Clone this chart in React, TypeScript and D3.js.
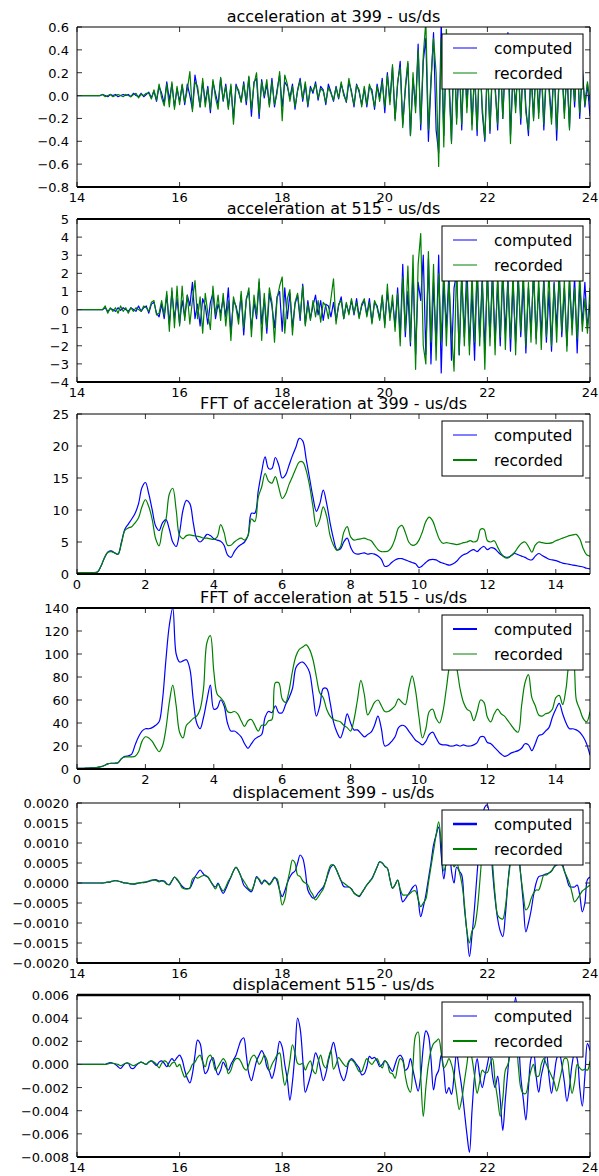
import * as d3 from 'd3';

// sampling of the stored series
const T0 = 14; // s, first sample of the time series
const DT = 0.05; // s between samples
const F0 = 0; // Hz, first FFT bin
const DF = 0.1; // Hz between FFT bins

// acceleration at 399
const accel399Computed = [
  0, 0, 0, 0, 0, 0, 0, 0, 0, 0, 0.01, 0, -0.01, 0.01, 0, 0.01, -0.01, 0, 0.01, 0,
  0.01, -0.01, 0.02, 0, -0.01, 0.02, -0.01, 0.01, 0.03, -0.02, 0.04, -0.05, 0.08, 0.02, -0.07, 0.12, -0.04, 0.1, -0.1, 0.06,
  -0.05, 0.09, -0.08, 0.1, 0, -0.12, 0.18, 0.05, -0.1, 0.12, -0.06, 0.08, -0.15, 0.12, 0.02, -0.08, 0.15, -0.05, 0.1, -0.1,
  0.08, -0.2, 0.1, 0.03, -0.05, 0.12, -0.08, 0.16, -0.18, 0.12, 0.15, -0.2, 0.14, -0.02, 0.1, -0.08, 0.15, -0.1, 0.05, 0.18,
  -0.1, 0.12, 0.08, -0.02, 0.1, -0.12, 0.05, 0.15, -0.05, 0.1, -0.1, 0.08, 0.02, 0.12, -0.04, 0.08, 0.05, -0.08, 0.1, 0.03,
  -0.05, 0.08, -0.03, 0.1, 0.02, -0.06, 0.12, 0.04, -0.1, 0.1, 0.03, -0.08, 0.06, -0.1, 0.08, 0.05, -0.12, 0.1, -0.02, 0.15,
  -0.15, 0.2, -0.05, 0.25, -0.2, 0.1, 0.3, -0.25, 0.05, 0.28, -0.35, 0.15, -0.1, 0.45, -0.3, 0.3, 0.5, -0.4, 0.1, 0.55,
  -0.3, -0.5, 0.65, -0.35, 0.4, 0.2, -0.4, 0.5, -0.2, 0.3, -0.3, 0.45, -0.1, 0.35, -0.25, 0.2, -0.35, 0.4, -0.15, -0.4,
  0.3, -0.33, 0.25, 0.1, -0.3, 0.4, -0.2, 0.3, 0.55, -0.35, 0.2, -0.1, 0.3, -0.25, 0.35, -0.1, -0.35, 0.25, -0.2, 0.3,
  -0.15, 0.25, -0.3, 0.2, 0.1, -0.2, 0.3, -0.39, 0.2, 0.25, -0.15, 0.2, -0.28, 0.3, -0.1, 0.35, -0.2, 0.25, -0.1, 0.1, -0.18,
];
const accel399Recorded = [
  0, 0, 0, 0, 0, 0, 0, 0, 0, 0, 0.01, -0.01, 0, 0.01, -0.01, 0, 0.01, 0, -0.01, 0.01,
  0, -0.01, 0.01, 0.02, -0.02, 0.01, 0, 0.02, 0.02, -0.03, 0.05, -0.04, 0.1, -0.02, -0.09, 0.1, -0.1, 0.12, -0.12, 0.08,
  -0.08, 0.1, -0.06, 0.05, 0.21, -0.14, 0.12, 0.08, -0.1, 0.15, -0.1, 0.06, -0.12, 0.14, -0.02, -0.12, 0.16, -0.04, 0.08, -0.12,
  0.1, -0.25, 0.08, 0.05, -0.06, 0.1, -0.05, 0.17, -0.12, 0.1, 0.2, -0.16, 0.12, 0, 0.14, -0.1, 0.12, -0.08, 0.02, 0.21,
  -0.22, 0.18, 0.1, -0.05, 0.08, -0.1, 0.04, 0.13, -0.03, 0.12, -0.08, 0.06, 0.04, 0.1, -0.02, 0.06, 0.04, -0.06, 0.07, 0.02,
  -0.04, 0.07, -0.02, 0.12, 0, -0.05, 0.15, 0.02, -0.08, 0.09, 0.05, -0.1, 0.08, -0.08, 0.1, 0.02, -0.1, 0.08, -0.05, 0.12,
  -0.1, 0.18, -0.08, 0.27, -0.22, 0.12, 0.25, -0.28, 0.08, 0.3, -0.35, 0.2, -0.15, 0.4, -0.25, 0.35, 0.65, -0.3, 0.15, 0.5,
  0.2, -0.62, 0.5, -0.45, 0.58, 0.1, -0.42, 0.45, -0.25, 0.35, -0.25, 0.4, -0.15, 0.3, -0.3, 0.25, -0.3, 0.35, -0.1, -0.38,
  0.25, -0.3, 0.3, 0.05, -0.25, 0.35, -0.2, 0.35, 0.4, -0.42, 0.25, -0.15, 0.3, -0.2, 0.3, -0.15, -0.3, 0.2, -0.22, 0.28,
  -0.2, 0.3, -0.25, 0.25, 0.05, -0.25, 0.28, -0.3, 0.15, 0.3, -0.2, 0.25, -0.3, 0.28, -0.05, 0.3, -0.15, 0.2, -0.08, 0.12, -0.05,
];

// acceleration at 515
const accel515Computed = [
  0, 0, 0, 0, 0, 0, 0, 0, 0, 0, 0, 0.1, -0.1, 0.05, 0, -0.1, 0.1, -0.05, 0.1, 0,
  -0.1, 0.1, 0, -0.1, 0.2, -0.1, 0.1, 0.2, -0.2, 0.3, 0.4, -0.2, -0.4, 0.3, -0.5, 0.8, -0.8, 1.0, -0.5, 0.6,
  -0.8, 0.5, -0.4, 0.8, 0.2, 1.5, -0.5, 0.3, -0.9, 0.6, 0.2, -0.8, 0.4, 0.9, -0.5, 0.3, -0.2, 0.6, -0.4, 1.2,
  -1.3, 0.5, 0.2, -0.5, 0.8, -1.4, 0.6, 1.0, -1.1, 0.4, -0.5, 1.5, -0.8, 0.6, -1.3, 0.9, 0.2, -1.0, 0.7, 1.0,
  -1.2, 1.2, -0.5, 0.9, -1.0, 0.3, 0.8, -0.6, 1.4, -0.8, 0.5, -0.5, 0.2, 0.8, -0.3, 0.5, -0.6, 0.3, 0.2, -0.4,
  0.4, -0.6, 0.2, 0.7, -0.5, 0.3, -0.2, 0.5, -0.3, 0.6, -0.4, 0.2, 0.5, -0.3, 0.6, -0.7, 0.4, 0.2, -0.5, 0.7,
  -0.8, 1.0, -0.4, 0.5, -0.9, 1.2, -1.5, 2.5, -1.5, 1.0, -2.0, 2.2, -2.5, 1.5, 0.5, 3.0, -2.5, 2.8, -3.0, 1.5,
  -2.0, 3.0, -3.5, 1.5, -1.0, 2.0, -2.8, 1.2, 2.0, -2.5, 1.8, -1.5, 2.5, -2.0, 1.0, -2.8, 2.2, -1.5, 1.8, -2.2,
  2.0, -1.5, 2.2, -1.8, 1.5, -2.0, 2.0, -1.3, 1.8, -2.3, 1.5, -1.8, 2.0, -1.5, 1.5, -2.4, 1.2, -1.2, 2.0, -1.6,
  1.2, -1.4, 1.8, -1.8, 1.0, -2.3, 1.5, -1.0, 2.0, -1.5, 1.2, -2.0, 1.5, -1.0, 1.8, -2.4, 1.4, -0.8, 1.5, -1.0, 0.3,
];
const accel515Recorded = [
  0, 0, 0, 0, 0, 0, 0, 0, 0, 0, 0, 0.2, -0.2, 0.1, -0.1, 0.1, -0.2, 0.2, -0.1, 0.1,
  -0.2, 0.1, -0.1, 0.1, 0, -0.1, 0.2, 0.1, -0.1, 0.4, 0.5, -0.3, -0.2, 0.5, -0.3, 1.0, -1.2, 1.2, -1.0, 1.3,
  -0.9, 1.3, -0.6, 0.8, -0.8, 0.5, 1.6, -0.5, 0.7, -1.3, 0.9, -0.2, -1.1, 1.3, -0.3, 0.8, -0.6, 0.9, -0.9, 0.5,
  -1.7, 0.7, 0.1, -0.8, 1.0, -1.0, 0.5, 1.2, -1.5, 0.8, -0.3, 1.7, -1.7, 0.9, -1.0, 1.2, 0.4, -1.8, 0.6, 1.3,
  1.8, -1.3, 0.6, 1.1, -1.4, 0.4, 0.9, -0.4, 1.3, -0.9, 0.3, -0.6, 0.5, -0.4, 0.5, -0.7, 0.4, 0.2, -0.5, 0.6,
  1.7, -0.8, 0.3, 0.5, -0.5, 0.4, -0.3, 0.6, -0.2, 0.4, -0.5, 0.3, 0.6, -0.4, 0.4, -0.8, 0.5, 0.1, -0.6, 0.8,
  -1.0, 1.4, -0.6, 0.8, -1.2, 0.9, -2.0, 1.8, -1.2, 2.4, -1.8, 3.0, -3.3, 2.5, 4.2, -2.0, -3.0, 3.2, -1.8, 2.5,
  -2.8, 2.0, -1.8, 2.5, -2.0, 1.5, -1.2, -3.4, 2.5, -2.5, 2.2, -2.0, 1.5, -2.5, 2.0, -1.8, 2.5, -2.0, 1.5, -3.3,
  2.2, -2.0, 1.8, -2.5, 2.0, -1.5, 2.5, -2.2, 1.5, -1.6, 2.0, -2.5, 1.8, -1.2, 2.2, -2.0, 1.5, -1.8, 2.5, -1.9,
  1.8, -2.2, 1.5, -1.5, 2.2, -2.0, 1.4, -1.8, 2.0, -1.2, 1.6, -2.3, 2.0, -1.4, 1.2, -1.6, 2.0, -1.2, 0.6, -1.3, 1.2,
];

// FFT of acceleration at 399 (every 0.1 Hz from 0 Hz)
const fft399Computed = [
  0.2, 0.2, 0.2, 0.2, 0.2, 0.2, 0.3, 1.2, 2.5, 3.4,
  3.6, 3.3, 3.1, 5.0, 7.0, 7.8, 8.6, 9.5, 11, 13.5,
  14.3, 12.5, 10, 7.5, 6.8, 8, 8.5, 7, 5, 4.3,
  6.5, 10, 11.5, 11, 8, 5.5, 5, 5.5, 6.2, 6,
  5.5, 5.3, 5.1, 4.5, 3, 2.6, 3.5, 4.2, 4.6, 5,
  6, 9.5, 9.5, 13, 16, 18.3, 16.5, 16.5, 18.2, 17,
  15, 15.5, 17, 18.5, 19.8, 21.2, 20.8, 18, 15, 12,
  9.8, 11, 13.1, 11, 8, 5.5, 3.8, 3.9, 5, 5.6,
  4.2, 3.3, 3.1, 3.2, 3.3, 3.1, 3.2, 3.1, 2.8, 2.3,
  1.2, 1.3, 1.8, 2.2, 2.4, 2.4, 2.2, 2, 1.8, 1.6,
  1.0, 1.3, 1.8, 2.2, 2.3, 2.2, 1.9, 1.7, 1.5, 1.4,
  1.6, 2.0, 2.6, 3.0, 3.2, 3.6, 3.8, 3.5, 4.0, 4.3,
  3.8, 4.1, 4.0, 3.5, 3.0, 2.7, 2.6, 2.9, 3.2, 3.0,
  2.8, 2.6, 2.3, 2.2, 2.8, 3.2, 2.9, 2.6, 2.3, 2.2,
  2.1, 1.9, 1.7, 1.6, 1.5, 1.4, 1.3, 1.2, 1.1, 0.9,
  0.8,
];
const fft399Recorded = [
  0.2, 0.2, 0.2, 0.2, 0.2, 0.2, 0.3, 1.2, 2.5, 3.4,
  3.5, 3.3, 3.1, 4.8, 6.8, 7.2, 7.4, 8, 8.8, 10.5,
  11.6, 10.5, 8.5, 5.5, 4.4, 7, 8.5, 12.5, 13.4, 10,
  6, 5.5, 6, 6.1, 6, 5.9, 5.8, 5.6, 5.6, 5.5,
  5.4, 5.8, 7.7, 6.5, 4.5, 4.5, 5, 5.4, 5.6, 5.3,
  6, 8.6, 8.2, 12, 13.6, 15.7, 14.5, 14.2, 15.2, 13.5,
  11.8, 12.5, 14, 15.2, 16.5, 17.5, 17.5, 16.2, 13.8, 10.5,
  7.4, 8.5, 10.5, 9, 6, 4.5, 3.7, 4.2, 6.5, 7.4,
  5.8, 5.3, 5.4, 5.5, 5.6, 5.4, 5.2, 4.5, 3.8, 3.5,
  3.5, 3.6, 4.2, 5.5, 7.2, 7.6, 6.5, 5, 4.5, 4.6,
  5.3, 6.6, 8.2, 8.9, 8.3, 6.8, 5.4, 4.8, 4.9, 4.8,
  4.7, 4.6, 4.7, 4.9, 5.0, 5.2, 5.0, 5.2, 7.0, 7.0,
  5.2, 5.0, 5.2, 4.2, 3.2, 2.6, 2.5, 2.9, 3.4, 4.2,
  4.8, 5.0, 4.3, 3.4, 4.5, 5.0, 4.9, 4.8, 4.8, 4.9,
  5.2, 5.4, 5.6, 5.8, 6.0, 6.1, 6.2, 5.5, 4.0, 3.0,
  2.8,
];

// FFT of acceleration at 515
const fft515Computed = [
  0.5, 0.5, 0.6, 0.8, 1, 1, 1.5, 2, 3, 4.5,
  5, 5, 5.5, 9, 11, 11.5, 13, 21, 28, 33,
  35, 35, 36, 38, 41, 60, 95, 125, 140, 100,
  93, 94, 95, 87, 60, 40, 35, 45, 60, 73,
  52, 53, 60, 55, 40, 33, 33, 31, 28, 22,
  18, 22, 26, 28, 30, 45, 50, 49, 55, 49,
  49, 56, 62, 70, 88, 92, 93, 90, 84, 65,
  46, 55, 70, 70, 58, 41, 32, 27, 35, 48,
  40, 34, 34, 31, 28, 30, 32, 38, 46, 35,
  20, 21, 24, 28, 36, 38, 37, 33, 29, 25,
  23, 21, 24, 30, 32, 27, 22, 21, 21, 20,
  20, 21, 20, 21, 20, 20, 21, 23, 28, 28,
  23, 22, 19, 16, 13, 11, 12, 14, 15, 16,
  18, 22, 21, 16, 22, 29, 30, 33, 36, 45,
  52, 57, 48, 40, 35, 35, 34, 32, 28, 22,
  12,
];
const fft515Recorded = [
  0.5, 0.5, 0.6, 0.8, 1, 1, 1.5, 2, 3, 4.5,
  5, 5, 5.5, 9, 10.5, 10.5, 10.5, 11, 15, 24,
  28, 27, 24, 19, 15, 20, 35, 58, 73, 55,
  32, 27, 38, 41, 44, 46, 52, 70, 110, 116,
  85, 65, 62, 58, 50, 49, 50, 48, 42, 37,
  42, 43, 38, 33, 38, 38, 42, 43, 75, 75,
  61, 58, 68, 85, 98, 104, 106, 108, 104, 95,
  80, 66, 62, 52, 46, 43, 42, 41, 38, 36,
  33, 43, 60, 77, 65, 47, 52, 58, 60, 55,
  50, 50, 52, 55, 61, 58, 56, 70, 81, 68,
  45, 27, 35, 50, 52, 44, 40, 50, 70, 90,
  96, 88, 70, 58, 52, 50, 42, 50, 60, 58,
  45, 41, 48, 52, 48, 46, 42, 38, 34, 32,
  55, 75, 82, 62, 55, 47, 46, 48, 49, 52,
  62, 64, 56, 70, 92, 95, 60, 52, 44, 41,
  50,
];

// displacement 399, in units of 1e-4
const DISP399_UNIT = 1e-4;
const disp399Computed = [
  0, 0, 0, 0, 0, 0, 0, 0, 0, 0, 0, 0.1, 0.2, 0.3, 0.5, 0.6, 0.5, 0.3, 0.1, 0,
  -0.1, -0.2, -0.3, -0.2, 0, 0.1, 0.1, 0.2, 0.4, 0.6, 0.8, 0.8, 0.5, 0.6, 0.5, -0.2, -0.5, 0.5, 1.5, 0.8,
  0, -0.8, -1.3, -1.4, -1.3, 0, 1.5, 2.5, 3.25, 2.5, 1.8, 1.5, 0.5, -0.5, -1, 0, -1.5, -2.6, -1.5, 0,
  1.5, 3, 3.9, 3, 1.5, -0.5, -1.2, -1.8, -2.2, -0.5, 1.6, 0.8, -0.3, 0.7, 0.3, -0.3, 0.5, 1.5, 0.5, -1.8,
  -3.4, -2, 0, 1.5, 2.5, 3, 5, 7, 6.2, 3, -1.75, -3, -3.8, -3.5, -2.5, -1.8, -1, 0.5, 2.5, 4,
  4.5, 3.5, 2, 0.5, -0.9, -1, -1, -1.5, -2.5, -3, -3.4, -2.5, -1.5, -0.5, 0.3, 1.2, 2.5, 4, 5.3, 5,
  4.2, 3.7, 1, -1.3, -0.5, 0.75, -2, -4.7, -4, -3, -2, -1, -0.5, -4, -8.4, -6, -3, 1, 5, 9.5,
  12, 14, 7, 1, 6, 10, 3, 0, 4, 3, 2, -6, -12, -18.4, -13, -6, 2.5, 10, 16, 19,
  19.5, 12, 3, -4, -9, -12, -13.4, -8, 0, 6, 9, 10, 8, 2, -5, -12.2, -10, -7, -3, 0,
  1.6, 1.8, 2, 2.3, 2.5, 3, 4, 4.5, 5, 5, 3, 1, -0.9, -1, -1, -0.5, -3, -7.2, -5, 0.9, 1.5,
];
const disp399Recorded = [
  0, 0, 0, 0, 0, 0, 0, 0, 0, 0, 0, 0.1, 0.2, 0.3, 0.5, 0.6, 0.5, 0.3, 0.1, 0,
  -0.1, -0.2, -0.2, -0.1, 0, 0.1, 0.2, 0.3, 0.5, 0.7, 0.8, 0.6, 0.3, 0.5, 0.3, -0.3, -0.3, 0.6, 1.5, 1.0,
  0, -1.2, -1.5, -1.5, -1.2, 1, 1.5, 1.2, 1.5, 1.8, 2, 1.5, 0.5, -0.5, -1.5, -0.3, -1.2, -2, -1, 0.5,
  1.5, 3, 4, 3, 1.5, 0.5, -0.5, -1.5, -1.8, -0.5, 1.3, 1, 0, 0.5, 0.2, -0.5, 0.3, 1.2, 1, -2,
  -5.5, -4, 0, 3, 5.75, 5, 2, 1.6, 0.5, 0, -0.5, -2, -3, -4.25, -3.5, -2.5, -1.5, 0.5, 3, 4.5,
  4.5, 3.5, 2, 0.5, 0, -0.5, -1, -1.5, -2.5, -3, -3.2, -2.5, -1.5, -0.5, 0.3, 1, 2.5, 4, 5.3, 5,
  4.2, 3.7, 1, -1.3, -0.5, 0.75, -1.5, -3, -3, -3, -2.5, -2, -2, -4, -5.9, -5, -4, 0, 4, 8,
  12, 15.3, 10, 3, 5, 8, 6, 4, 5, 3, 0, -5, -12, -15, -12, -10.9, -7, 0, 8, 14,
  17, 13, 5, -3, -8, -8.8, -9, -6, 0, 5, 8, 9, 7, 2, -3, -6.75, -6, -4, -2.5, -1.75,
  -1.75, 0, 2, 2, 2.5, 3, 4, 5, 5, 4.5, 3, 1.5, 0, -2.5, -4.7, -4, -3, -2, -1.5, -1, -0.5,
];

// displacement 515, in units of 1e-3
const DISP515_UNIT = 1e-3;
const disp515Computed = [
  0, 0, 0, 0, 0, 0, 0, 0, 0, 0, 0, 0, 0.1, 0.15, 0.1, 0, -0.2, -0.35, -0.1, 0.1,
  0.1, -0.3, -0.35, -0.1, 0.1, 0.2, 0.1, 0, 0.2, 0.3, 0.1, -0.1, 0.2, 0.3, 0.1, -0.2, 0.2, 0.5, 0.3, 0.6,
  0.8, 0.4, -0.5, -1.2, -1.6, -0.8, 0.8, 2.1, 1.8, 0.3, -0.8, -0.5, 0.3, 0.6, -0.3, -0.9, -0.5, 0.2, -0.2, -0.5,
  0, 0.4, 0.8, 1.5, 2.1, 2.3, 0.8, -0.8, -1.4, -0.6, 0.3, 0.8, 1.2, 0.8, -0.2, -0.6, -1.2, -0.5, 0.8, 2.0,
  1.5, 0, -1.3, -3.1, -1.5, 1.0, 4.0, 3.1, 0.5, -2.4, -1.8, -1, 0, 1, 0.5, -0.5, -1.4, -0.8, 0.3, 1.2,
  1.9, 1.0, -0.2, -1.0, -1.4, -0.8, 0.2, 0.5, 0.3, 0, -0.3, -0.9, -0.8, -0.2, 0.7, 0.5, 0.6, 0.3, -0.2, 0,
  0.3, 0.1, -0.3, -0.6, 0, 0.6, 0.8, 0.5, -0.5, -0.3, 0.5, -0.5, -1.5, -2.3, -1, 1.5, 2.9, 2.5, 0.5, -2.2,
  -1, -0.5, 0.8, -0.5, -2.5, -2.0, -2.6, -1.0, 1.0, -0.5, -2, -4, -6, -7.6, -4, -1, 0.5, -1, -2, -1,
  0, 1, -1, -2, -1, -3, -5.7, -3, -0.5, 2, 4, 5.8, 3, -1, -3, -4.8, -2, 0.5, 1, -1,
  -2.4, -1, 0, 1, -1, -2.5, -1, 0.5, 1, 0, -1.5, -3.2, -2, 0, 1, 0.5, -2, -3.6, -1, 1.8, 1.2,
];
const disp515Recorded = [
  0, 0, 0, 0, 0, 0, 0, 0, 0, 0, 0, 0, 0.05, 0.1, 0.1, 0.05, 0, -0.1, 0, 0.1,
  0.1, 0, -0.1, 0, 0.1, 0.2, 0.1, 0, 0.2, 0.3, 0.2, 0, -0.3, 0.1, 0.3, 0.2, -0.2, 0.1, 0.2, -0.2,
  0, -0.6, -1.1, -0.8, -0.5, 0, 0.2, 0.6, 0.8, 0.2, -0.2, 0.6, 0.8, 0.3, -0.5, -0.2, 0.2, 0.5, 0.2, -0.8,
  -0.5, 0.2, 0.5, 0.5, 0.2, -0.3, -0.5, 0, 0.6, 0.8, 0.5, 0, 0.3, 0.8, 0.4, -0.5, 0, 0.4, 0.8, 1.0,
  -0.5, -1.8, -1, 0.3, 1.7, 1.0, 0.1, 0, 0.1, -0.5, 0, 0.3, -0.5, -0.8, 0.2, 0.8, 0, -0.3, 0.5, 1.2,
  -0.4, 0, 0.6, 0.3, 0, -0.2, 0.3, 0.4, 0.2, -0.2, -0.6, -0.6, 0, 0.5, 0.2, 0, 0.3, 0.5, 0, -0.3,
  0.3, 0.1, -0.7, -0.8, -1.2, -0.2, 0.5, 0.3, -1, -2, -2.4, 0, 2.5, 2.8, -1, -4.5, -2, 0, 1.2, 1.8,
  2, 2.2, 1, -0.3, 0, 0.5, 0, -1, -2.5, -3.9, -3, -1.5, 0, 1.5, 0.5, -1, -2.5, -1.5, -0.5, -0.7,
  -0.7, 0, 0.5, -1.5, -3, -4.5, -3, -0.5, 0, 1, 2, 2, 0, -2, -2.5, -2.5, -1.5, -0.5, 0, -1,
  -1, 0, 0.5, 0, -0.5, -1, -1.5, -2.3, -1.5, -0.5, 0.5, 0.5, -1, -2.5, -1.5, 0, -0.3, -0.5, -0.4, -0.5, 0.3,
];

const titles = [
  'acceleration at 399 - us/ds',
  'acceleration at 515 - us/ds',
  'FFT of acceleration at 399 - us/ds',
  'FFT of acceleration at 515 - us/ds',
  'displacement 399 - us/ds',
  'displacement 515 - us/ds',
];
const legendLabels = ['computed', 'recorded'];

const timeTicks = [14, 16, 18, 20, 22, 24];
const freqTicks = [0, 2, 4, 6, 8, 10, 12, 14];
const accel399Ticks = [-0.8, -0.6, -0.4, -0.2, 0, 0.2, 0.4, 0.6];
const accel515Ticks = [-4, -3, -2, -1, 0, 1, 2, 3, 4, 5];
const fft399Ticks = [0, 5, 10, 15, 20, 25];
const fft515Ticks = [0, 20, 40, 60, 80, 100, 120, 140];
const disp399Ticks = [-0.002, -0.0015, -0.001, -0.0005, 0, 0.0005, 0.001, 0.0015, 0.002];
const disp515Ticks = [-0.008, -0.006, -0.004, -0.002, 0, 0.002, 0.004, 0.006];

const W = 599;
const H = 1176;
const LEFT = 77;
const RIGHT = 590;
const FONT = 'DejaVu Sans, Liberation Sans, sans-serif';
const BLUE = '#0000ff';
const GREEN = '#008000';

const panels = [
  { computed: accel399Computed, recorded: accel399Recorded, start: T0, step: DT, unit: 1, smooth: false,
    xDomain: [14, 24], xTicks: timeTicks, yDomain: [-0.8, 0.6], yTicks: accel399Ticks, fmt: '.1f',
    top: 27, bottom: 187, handles: [1, 1], topSpine: 1 },
  { computed: accel515Computed, recorded: accel515Recorded, start: T0, step: DT, unit: 1, smooth: false,
    xDomain: [14, 24], xTicks: timeTicks, yDomain: [-4, 5], yTicks: accel515Ticks, fmt: 'd',
    top: 219, bottom: 382, handles: [1, 1], topSpine: 2 },
  { computed: fft399Computed, recorded: fft399Recorded, start: F0, step: DF, unit: 1, smooth: true,
    xDomain: [0, 15], xTicks: freqTicks, yDomain: [0, 25], yTicks: fft399Ticks, fmt: 'd',
    top: 414, bottom: 574, handles: [1, 2], topSpine: 1 },
  { computed: fft515Computed, recorded: fft515Recorded, start: F0, step: DF, unit: 1, smooth: true,
    xDomain: [0, 15], xTicks: freqTicks, yDomain: [0, 140], yTicks: fft515Ticks, fmt: 'd',
    top: 608, bottom: 769, handles: [2, 1], topSpine: 2 },
  { computed: disp399Computed, recorded: disp399Recorded, start: T0, step: DT, unit: DISP399_UNIT, smooth: true,
    xDomain: [14, 24], xTicks: timeTicks, yDomain: [-0.002, 0.002], yTicks: disp399Ticks, fmt: '.4f',
    top: 803, bottom: 963, handles: [2.5, 2], topSpine: 1 },
  { computed: disp515Computed, recorded: disp515Recorded, start: T0, step: DT, unit: DISP515_UNIT, smooth: true,
    xDomain: [14, 24], xTicks: timeTicks, yDomain: [-0.008, 0.006], yTicks: disp515Ticks, fmt: '.3f',
    top: 995, bottom: 1157, handles: [1, 2], topSpine: 2.5 },
];

type Panel = (typeof panels)[number];

function Subplot({ p, idx }: { p: Panel; idx: number }) {
  const x = d3.scaleLinear().domain(p.xDomain).range([LEFT, RIGHT]);
  const y = d3.scaleLinear().domain(p.yDomain).range([p.bottom, p.top]);
  const line = d3
    .line<number>()
    .x((_, i) => x(p.start + i * p.step))
    .y((d) => y(d * p.unit))
    .curve(p.smooth ? d3.curveCatmullRom.alpha(0.5) : d3.curveLinear);
  const fmtY = d3.format(p.fmt);
  const fmtX = d3.format('d');
  const clipId = `clip-${idx}`;
  const tick = 5;
  const lg = { x: 442, y: p.top + 7, w: 141, h: 55 };

  return (
    <g>
      <defs>
        <clipPath id={clipId}>
          <rect x={LEFT} y={p.top} width={RIGHT - LEFT} height={p.bottom - p.top} />
        </clipPath>
      </defs>
      <text x={(LEFT + RIGHT) / 2} y={p.top - 5} textAnchor="middle" fontSize={16} fontFamily={FONT}>
        {titles[idx]}
      </text>
      <g clipPath={`url(#${clipId})`} fill="none" strokeWidth={1.2} strokeLinejoin="round">
        <path d={line(p.computed) ?? ''} stroke={BLUE} />
        <path d={line(p.recorded) ?? ''} stroke={GREEN} />
      </g>
      {/* ticks point inward on all four sides */}
      <g stroke="#333" strokeWidth={1}>
        {p.xTicks.map((t) => (
          <g key={`xt${t}`}>
            <line x1={x(t)} x2={x(t)} y1={p.bottom} y2={p.bottom - tick} />
            <line x1={x(t)} x2={x(t)} y1={p.top} y2={p.top + tick} />
          </g>
        ))}
        {p.yTicks.map((t) => (
          <g key={`yt${t}`}>
            <line x1={LEFT} x2={LEFT + tick} y1={y(t)} y2={y(t)} />
            <line x1={RIGHT} x2={RIGHT - tick} y1={y(t)} y2={y(t)} />
          </g>
        ))}
      </g>
      <g stroke="#000" fill="none">
        <line x1={LEFT} x2={RIGHT} y1={p.top} y2={p.top} strokeWidth={p.topSpine} />
        <line x1={LEFT} x2={RIGHT} y1={p.bottom} y2={p.bottom} strokeWidth={2} />
        <line x1={LEFT} x2={LEFT} y1={p.top} y2={p.bottom} strokeWidth={1} />
        <line x1={RIGHT} x2={RIGHT} y1={p.top} y2={p.bottom} strokeWidth={1} />
      </g>
      <g fontSize={13} fontFamily={FONT} fill="#000">
        {p.xTicks.map((t) => (
          <text key={`xl${t}`} x={x(t)} y={p.bottom + 15} textAnchor="middle">
            {fmtX(t)}
          </text>
        ))}
        {p.yTicks.map((t) => (
          <text key={`yl${t}`} x={LEFT - 8} y={y(t) + 5} textAnchor="end">
            {fmtY(t)}
          </text>
        ))}
      </g>
      <g>
        <rect x={lg.x} y={lg.y} width={lg.w} height={lg.h} fill="#fff" stroke="#000" strokeWidth={1} />
        {legendLabels.map((label, k) => {
          const cy = lg.y + 14 + k * 25;
          return (
            <g key={label}>
              <line x1={lg.x + 11} x2={lg.x + 35} y1={cy} y2={cy} stroke={k === 0 ? BLUE : GREEN} strokeWidth={p.handles[k]} />
              <text x={lg.x + 52} y={cy + 5.5} fontSize={15.5} fontFamily={FONT}>
                {label}
              </text>
            </g>
          );
        })}
      </g>
    </g>
  );
}

export default function App() {
  return (
    <svg
      width={W}
      height={H}
      viewBox={`0 0 ${W} ${H}`}
      style={{ position: 'absolute', left: 0, top: 0, display: 'block', background: '#fff' }}
    >
      <rect width={W} height={H} fill="#fff" />
      {panels.map((p, i) => (
        <Subplot key={i} p={p} idx={i} />
      ))}
    </svg>
  );
}
